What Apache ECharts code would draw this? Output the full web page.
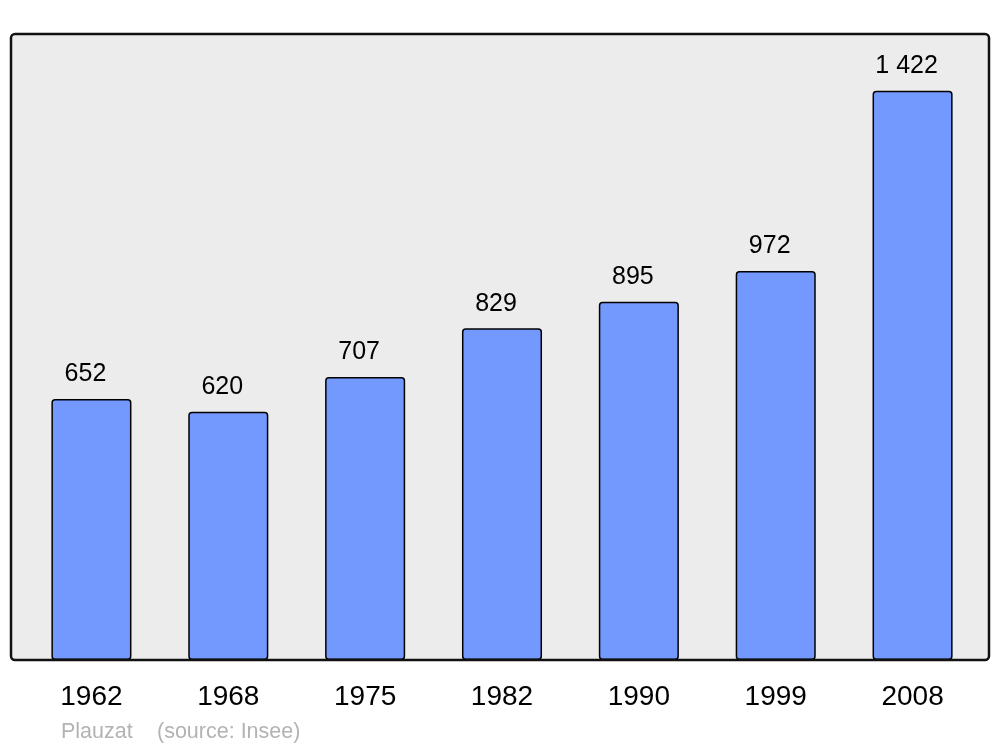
<!DOCTYPE html>
<html>
<head>
<meta charset="utf-8">
<script src="https://cdn.jsdelivr.net/npm/echarts@6/dist/echarts.min.js"></script>
<style>
html,body{margin:0;padding:0;background:#fff;}
#c{width:1000px;height:747px;}
</style>
</head>
<body>
<div id="c"></div>
<script>
const years = ['1962','1968','1975','1982','1990','1999','2008'];
const population = [652, 620, 707, 829, 895, 972, 1422];
const town = 'Plauzat';
const source = '(source: Insee)';

const chart = echarts.init(document.getElementById('c'), null, {renderer:'canvas'});
const fmt = v => String(v).replace(/\B(?=(\d{3})+(?!\d))/g, ' ');
chart.setOption({
  animation: false,
  backgroundColor: '#ffffff',
  grid: {left: 23, right: 19, top: 34, bottom: 87},
  xAxis: {
    type: 'category',
    data: years,
    axisLine: {show: false},
    axisTick: {show: false},
    axisLabel: {color: '#000', fontSize: 28, fontFamily: 'Liberation Sans', margin: 23}
  },
  yAxis: {
    type: 'value', min: 0, max: 1564,
    show: false,
    splitLine: {show: false}
  },
  graphic: [
    {type: 'rect', z: 0, shape: {x: 11, y: 34, width: 978, height: 626, r: 4},
     style: {fill: '#ececec', stroke: 'none'}},
    {type: 'rect', z: 10, shape: {x: 11, y: 34, width: 978, height: 626, r: 4},
     style: {fill: 'none', stroke: '#111', lineWidth: 2.5}},
    {type: 'text', left: 61, top: 721, z: 10,
     style: {text: town, fill: '#b3b3b3', fontSize: 21.5, fontFamily: 'Liberation Sans'}},
    {type: 'text', left: 157, top: 721, z: 10,
     style: {text: source, fill: '#b3b3b3', fontSize: 21.5, fontFamily: 'Liberation Sans'}}
  ],
  series: [{
    type: 'bar',
    data: population,
    barCategoryGap: '41.5%',
    z: 5,
    itemStyle: {color: '#7399ff', borderColor: '#000', borderWidth: 1.5, borderRadius: 3},
    label: {
      show: true, position: 'top', distance: 12, offset: [-6, 0],
      color: '#000', fontSize: 25, fontFamily: 'Liberation Sans',
      formatter: p => fmt(p.value)
    }
  }]
});
</script>
</body>
</html>
